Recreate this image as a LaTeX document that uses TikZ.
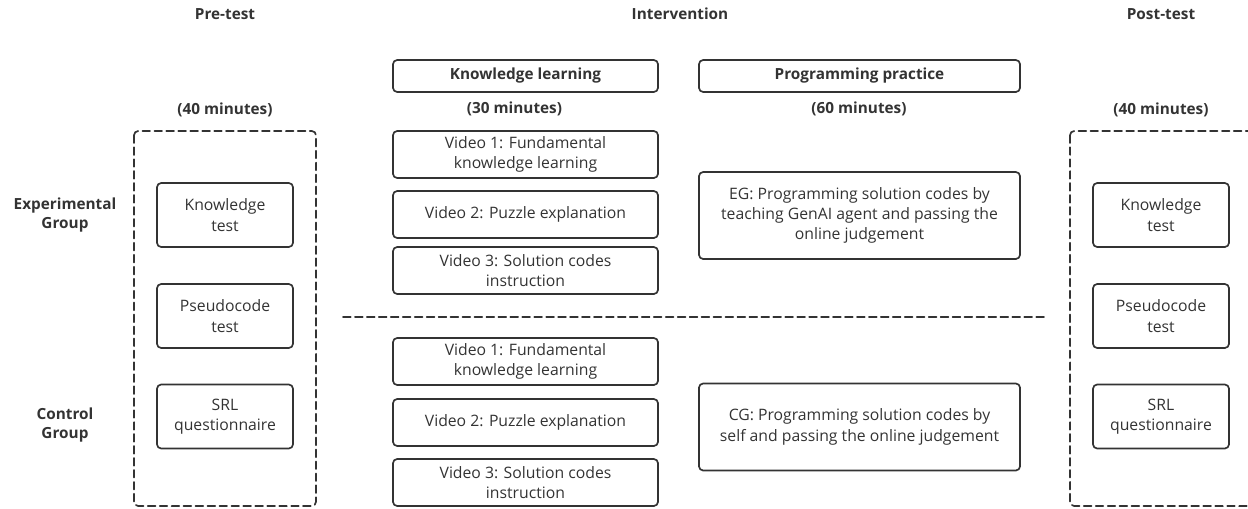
\documentclass[tikz,border=0pt]{standalone}
\usepackage{fontspec}
\setmainfont{Open Sans}
\definecolor{ink}{HTML}{333333}
\begin{document}
\begin{tikzpicture}[x=0.025cm, y=-0.025cm, line join=round, line cap=round,
	font=\fontsize{11.2pt}{14.4pt}\selectfont, text=ink,
	head/.style={font=\fontsize{10.9pt}{14pt}\selectfont\bfseries, align=center},
	box/.style={draw=ink, line width=1.2pt, rounded corners=3pt, align=center, inner sep=0pt},
	vbox/.style={box, minimum width=6.625cm, minimum height=1.175cm},
	tbox/.style={box, minimum width=3.4cm, minimum height=1.6cm},
	pbox/.style={box, minimum width=8.025cm, minimum height=2.175cm},
	frame/.style={draw=ink, line width=1.2pt, dash pattern=on 5.5pt off 3pt, rounded corners=3pt}]
	\useasboundingbox (0,0) rectangle (1248,508);
	% column headings
	\node[head] (pre) at (225,14) {Pre-test};
	\node[head] (inter) at (680,14) {Intervention};
	\node[head] (post) at (1161,14) {Post-test};
	\node[box, font=\fontsize{10.9pt}{14pt}\selectfont\bfseries, minimum width=6.625cm, minimum height=0.8cm] (kl) at (525.5,76) {Knowledge learning};
	\node[box, font=\fontsize{10.9pt}{14pt}\selectfont\bfseries, minimum width=8.025cm, minimum height=0.8cm] (pp) at (859.5,76) {Programming practice};
	\node[head] (tpre) at (225,110) {(40 minutes)};
	\node[head] (tkl) at (514.5,109) {(30 minutes)};
	\node[head] (tpp) at (859,109) {(60 minutes)};
	\node[head] (tpost) at (1161,110) {(40 minutes)};
	% groups
	\node[head] (eg) at (65,215) {Experimental\\Group};
	\node[head] (cg) at (65,425) {Control\\Group};
	% tests
	\draw[frame] (134,131) rectangle (316,506);
	\draw[frame] (1070,131) rectangle (1252,506);
	\foreach \x/\s in {225/a,1161/b}{
		\node[tbox] (know\s) at (\x,215) {Knowledge\\test};
		\node[tbox] (pseudo\s) at (\x,316) {Pseudocode\\test};
		\node[tbox] (srl\s) at (\x,416.5) {SRL\\questionnaire};
	}
	% videos
	\node[vbox] (v1e) at (525.5,154.5) {Video 1: Fundamental\\knowledge learning};
	\node[vbox] (v2e) at (525.5,214.5) {Video 2: Puzzle explanation};
	\node[vbox] (v3e) at (525.5,270.5) {Video 3: Solution codes\\instruction};
	\node[vbox] (v1c) at (525.5,361.5) {Video 1: Fundamental\\knowledge learning};
	\node[vbox] (v2c) at (525.5,422.5) {Video 2: Puzzle explanation};
	\node[vbox] (v3c) at (525.5,482.5) {Video 3: Solution codes\\instruction};
	% practice
	\node[pbox] (pe) at (859.5,215.5) {EG: Programming solution codes by\\teaching GenAI agent and passing the\\online judgement};
	\node[pbox] (pc) at (859.5,427) {CG: Programming solution codes by\\self and passing the online judgement};
	\draw[draw=ink, line width=1.2pt, dash pattern=on 5.5pt off 3pt] (343,317)--(1048,317);
\end{tikzpicture}
\end{document}
